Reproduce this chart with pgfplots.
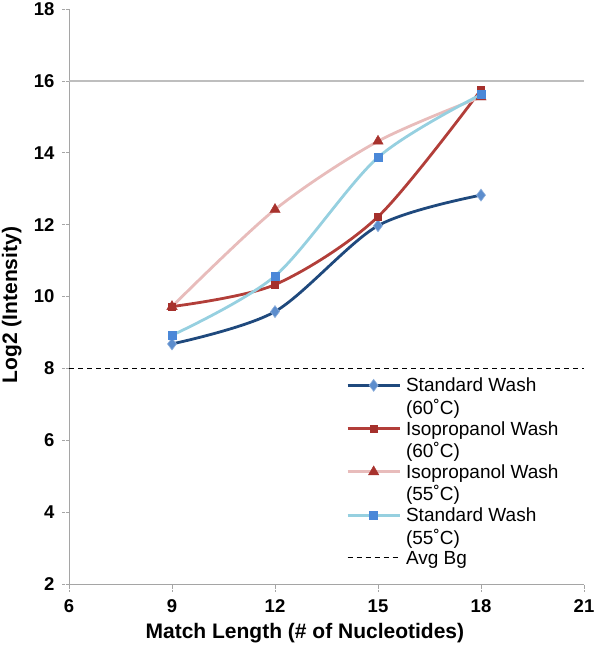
\documentclass[border=0pt]{standalone}
\usepackage{fontspec}
\setmainfont{Liberation Sans}
\usepackage{pgfplots}
\pgfplotsset{compat=1.18}
\definecolor{sw60}{RGB}{31,73,125}
\definecolor{sw60m}{RGB}{92,141,205}
\definecolor{ip60}{RGB}{178,62,57}
\definecolor{ip60m}{RGB}{165,48,44}
\definecolor{ip55}{RGB}{232,188,187}
\definecolor{ip55m}{RGB}{168,50,45}
\definecolor{sw55}{RGB}{150,208,224}
\definecolor{sw55m}{RGB}{74,136,216}
\definecolor{axgray}{RGB}{165,165,165}
\pgfplotsset{
  twoline leg/.style={legend image code/.code={\draw[mark repeat=2,mark phase=2,##1] plot coordinates {(0pt,29pt) (26pt,29pt) (52pt,29pt)};}},
  oneline leg/.style={legend image code/.code={\draw[##1] (0pt,6.5pt) -- (52pt,6.5pt);}},
}
\begin{document}
\begin{tikzpicture}
\useasboundingbox (-69pt,-68pt) rectangle (531pt,584pt);
\begin{axis}[
  at={(0pt,0pt)}, anchor=south west,
  scale only axis, width=515pt, height=575pt,
  xmin=6, xmax=21, ymin=2, ymax=18,
  xtick={6,9,12,15,18,21}, ytick={2,4,6,8,10,12,14,16,18},
  axis lines*=left,
  axis line style={axgray, line width=0.7pt},
  tick align=outside, major tick length=7pt,
  tick style={axgray, densely dotted, line width=0.6pt},
  /pgf/number format/assume math mode=true,
  ticklabel style={font=\bfseries\fontsize{18.5}{20}\selectfont},
  xticklabel style={yshift=-5pt},
  yticklabel style={xshift=-4pt},
  xlabel={Match Length (\# of Nucleotides)},
  ylabel={Log2 (Intensity)},
  label style={font=\bfseries\fontsize{21}{24}\selectfont},
  xlabel style={at={(axis description cs:0.458,-0.085)}, anchor=center},
  ylabel style={at={(axis description cs:-0.111,0.485)}, anchor=center},
  legend style={at={(0.538,0.362)}, anchor=north west, draw=none, fill=none,
    font=\fontsize{19}{22.5}\selectfont, cells={anchor=base west, align=left},
    row sep=1.5pt, inner sep=0pt, column sep=3pt},
  twoline leg,
  clip=false,
]
\addplot[color={rgb,255:red,190;green,190;blue,190}, line width=2pt, forget plot] coordinates {(6,16) (21,16)};
\addplot[sw60, line width=2.8pt, smooth, tension=0.5, mark=diamond*, mark size=6pt,
  mark options={fill=sw60m, draw=sw60m!70!white, line width=0.6pt, solid}] coordinates {
  (9,8.68) (12,9.58) (15,11.97) (18,12.82)};
\addlegendentry{Standard Wash\\(60˚C)}
\addplot[ip60, line width=2.8pt, smooth, tension=0.5, mark=square*, mark size=3.5pt,
  mark options={fill=ip60m, draw=ip60m, line width=0.4pt, solid}] coordinates {
  (9,9.72) (12,10.33) (15,12.22) (18,15.75)};
\addlegendentry{Isopropanol Wash\\(60˚C)}
\addplot[ip55, line width=2.8pt, smooth, tension=0.5, mark=triangle*, mark size=6pt,
  mark options={fill=ip55m, draw=ip55m, line width=0.4pt, solid}] coordinates {
  (9,9.72) (12,12.42) (15,14.32) (18,15.55)};
\addlegendentry{Isopropanol Wash\\(55˚C)}
\addplot[sw55, line width=2.8pt, smooth, tension=0.5, mark=square*, mark size=4pt,
  mark options={fill=sw55m, draw=sw55m, line width=0.4pt, solid}] coordinates {
  (9,8.92) (12,10.57) (15,13.87) (18,15.62)};
\addlegendentry{Standard Wash\\(55˚C)}
\addplot[black, line width=0.9pt, dash pattern=on 5pt off 4pt, oneline leg] coordinates {(6,8) (21,8)};
\addlegendentry{Avg Bg}
\end{axis}
\end{tikzpicture}
\end{document}
